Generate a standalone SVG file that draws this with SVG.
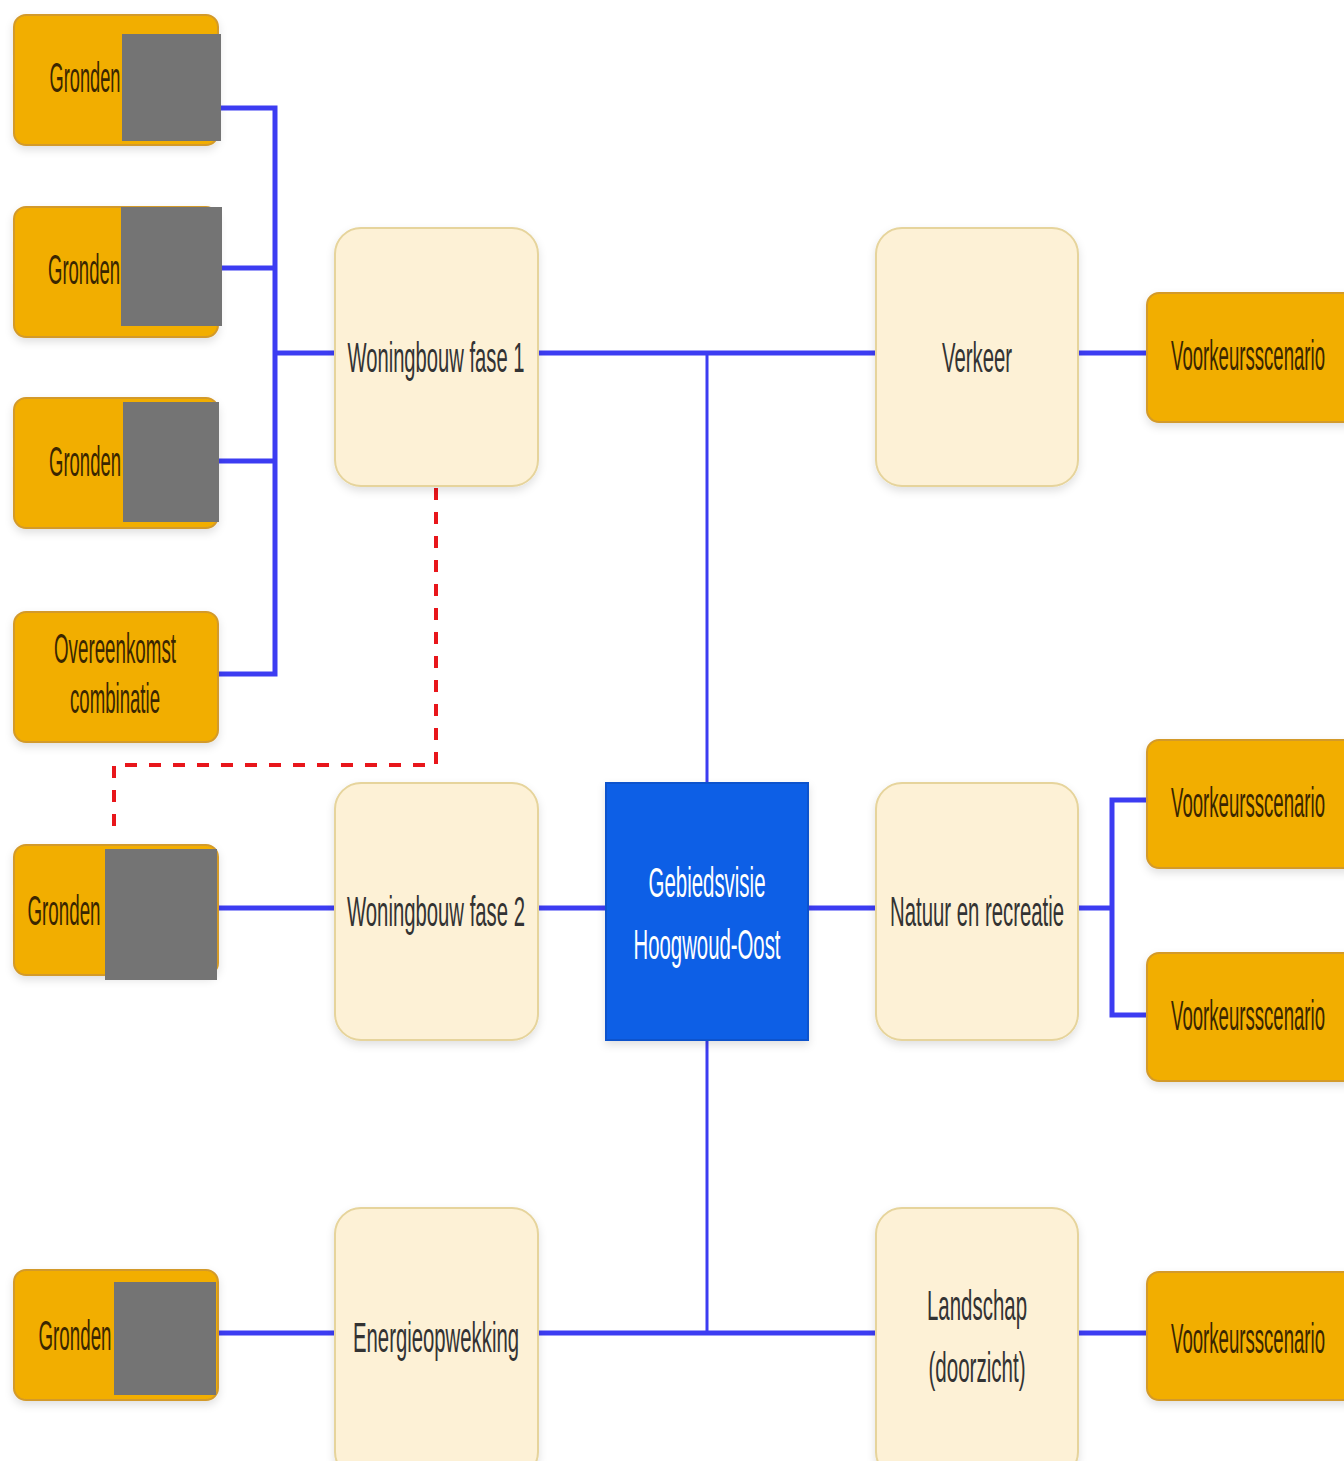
<svg xmlns="http://www.w3.org/2000/svg" width="1344" height="1461" viewBox="0 0 1344 1461">
<defs>
<style>
.or{fill:#f2ae00;stroke:#d39a2a;stroke-width:2}
.gr{fill:#747474}
.cr{fill:#fdf1d6;stroke:#e6d49c;stroke-width:2}
.ctr{fill:#0b5fe6;stroke:#0a52cc;stroke-width:2}
.t{font-family:"Liberation Sans",Arial,sans-serif;font-size:42px;text-anchor:middle}
.to{fill:#3a2600}
.tc{fill:#333333}
.tw{fill:#ffffff}
.ln{stroke:#3c3cf2;stroke-width:5;fill:none}
.lt{stroke:#3c3cf2;stroke-width:3;fill:none}
.rd{stroke:#e8161b;stroke-width:4;fill:none;stroke-dasharray:12 12}
</style>
<filter id="sh" x="-10%" y="-10%" width="120%" height="130%">
<feDropShadow dx="0" dy="4" stdDeviation="4" flood-color="#000" flood-opacity="0.12"/>
</filter>
</defs>
<rect width="1344" height="1461" fill="#ffffff"/>
<g id="connectors">
<polyline class="ln" points="221,108 275,108 275,674 218,674"/>
<line class="ln" x1="222" y1="268" x2="275" y2="268"/>
<line class="ln" x1="219" y1="461" x2="275" y2="461"/>
<line class="ln" x1="275" y1="353" x2="335" y2="353"/>
<line class="ln" x1="538" y1="353" x2="876" y2="353"/>
<line class="lt" x1="707" y1="353" x2="707" y2="783"/>
<line class="ln" x1="1078" y1="353" x2="1147" y2="353"/>
<polyline class="rd" points="436,488 436,765 114,765 114,826"/>
<line class="ln" x1="217" y1="908" x2="335" y2="908"/>
<line class="ln" x1="538" y1="908" x2="606" y2="908"/>
<line class="ln" x1="808" y1="908" x2="876" y2="908"/>
<line class="ln" x1="1078" y1="908" x2="1112" y2="908"/>
<polyline class="ln" points="1147,800 1112,800 1112,1015 1147,1015"/>
<line class="lt" x1="707" y1="1040" x2="707" y2="1333"/>
<line class="ln" x1="538" y1="1333" x2="876" y2="1333"/>
<line class="ln" x1="216" y1="1333" x2="335" y2="1333"/>
<line class="ln" x1="1078" y1="1333" x2="1147" y2="1333"/>
</g>
<g id="gronden1">
<rect class="or" x="14" y="15" width="204" height="130" rx="12" filter="url(#sh)"/>
<rect class="gr" x="122" y="34" width="99" height="107"/>
<text class="t to" x="85" y="92" textLength="71" lengthAdjust="spacingAndGlyphs">Gronden</text>
</g>
<g id="gronden2">
<rect class="or" x="14" y="207" width="204" height="130" rx="12" filter="url(#sh)"/>
<rect class="gr" x="121" y="207" width="101" height="119"/>
<text class="t to" x="84" y="284" textLength="72" lengthAdjust="spacingAndGlyphs">Gronden</text>
</g>
<g id="gronden3">
<rect class="or" x="14" y="398" width="204" height="130" rx="12" filter="url(#sh)"/>
<rect class="gr" x="123" y="402" width="96" height="120"/>
<text class="t to" x="85" y="476" textLength="72" lengthAdjust="spacingAndGlyphs">Gronden</text>
</g>
<g id="overeenkomst">
<rect class="or" x="14" y="612" width="204" height="130" rx="12" filter="url(#sh)"/>
<text class="t to" x="115" y="663" textLength="122" lengthAdjust="spacingAndGlyphs">Overeenkomst</text>
<text class="t to" x="115" y="713" textLength="90" lengthAdjust="spacingAndGlyphs">combinatie</text>
</g>
<g id="gronden5">
<rect class="or" x="14" y="845" width="204" height="130" rx="12" filter="url(#sh)"/>
<rect class="gr" x="105" y="849" width="112" height="131"/>
<text class="t to" x="64" y="925" textLength="73" lengthAdjust="spacingAndGlyphs">Gronden</text>
</g>
<g id="gronden6">
<rect class="or" x="14" y="1270" width="204" height="130" rx="12" filter="url(#sh)"/>
<rect class="gr" x="114" y="1282" width="102" height="113"/>
<text class="t to" x="75" y="1350" textLength="73" lengthAdjust="spacingAndGlyphs">Gronden</text>
</g>
<g id="woningbouw1">
<rect class="cr" x="335" y="228" width="203" height="258" rx="26" filter="url(#sh)"/>
<text class="t tc" x="436" y="372" textLength="177" lengthAdjust="spacingAndGlyphs">Woningbouw fase 1</text>
</g>
<g id="verkeer">
<rect class="cr" x="876" y="228" width="202" height="258" rx="26" filter="url(#sh)"/>
<text class="t tc" x="977" y="372" textLength="70" lengthAdjust="spacingAndGlyphs">Verkeer</text>
</g>
<g id="voorkeur1">
<rect class="or" x="1147" y="293" width="210" height="129" rx="12" filter="url(#sh)"/>
<text class="t to" x="1248" y="370" textLength="154" lengthAdjust="spacingAndGlyphs">Voorkeursscenario</text>
</g>
<g id="woningbouw2">
<rect class="cr" x="335" y="783" width="203" height="257" rx="26" filter="url(#sh)"/>
<text class="t tc" x="436" y="926" textLength="178" lengthAdjust="spacingAndGlyphs">Woningbouw fase 2</text>
</g>
<g id="gebiedsvisie">
<rect class="ctr" x="606" y="783" width="202" height="257" filter="url(#sh)"/>
<text class="t tw" x="707" y="897" textLength="117" lengthAdjust="spacingAndGlyphs">Gebiedsvisie</text>
<text class="t tw" x="707" y="959" textLength="147" lengthAdjust="spacingAndGlyphs">Hoogwoud-Oost</text>
</g>
<g id="natuur">
<rect class="cr" x="876" y="783" width="202" height="257" rx="26" filter="url(#sh)"/>
<text class="t tc" x="977" y="926" textLength="174" lengthAdjust="spacingAndGlyphs">Natuur en recreatie</text>
</g>
<g id="voorkeur2">
<rect class="or" x="1147" y="740" width="210" height="128" rx="12" filter="url(#sh)"/>
<text class="t to" x="1248" y="817" textLength="154" lengthAdjust="spacingAndGlyphs">Voorkeursscenario</text>
</g>
<g id="voorkeur3">
<rect class="or" x="1147" y="953" width="210" height="128" rx="12" filter="url(#sh)"/>
<text class="t to" x="1248" y="1030" textLength="154" lengthAdjust="spacingAndGlyphs">Voorkeursscenario</text>
</g>
<g id="energie">
<rect class="cr" x="335" y="1208" width="203" height="270" rx="26" filter="url(#sh)"/>
<text class="t tc" x="436" y="1352" textLength="166" lengthAdjust="spacingAndGlyphs">Energieopwekking</text>
</g>
<g id="landschap">
<rect class="cr" x="876" y="1208" width="202" height="270" rx="26" filter="url(#sh)"/>
<text class="t tc" x="977" y="1320" textLength="100" lengthAdjust="spacingAndGlyphs">Landschap</text>
<text class="t tc" x="977" y="1382" textLength="97" lengthAdjust="spacingAndGlyphs">(doorzicht)</text>
</g>
<g id="voorkeur4">
<rect class="or" x="1147" y="1272" width="210" height="128" rx="12" filter="url(#sh)"/>
<text class="t to" x="1248" y="1353" textLength="154" lengthAdjust="spacingAndGlyphs">Voorkeursscenario</text>
</g>
</svg>
